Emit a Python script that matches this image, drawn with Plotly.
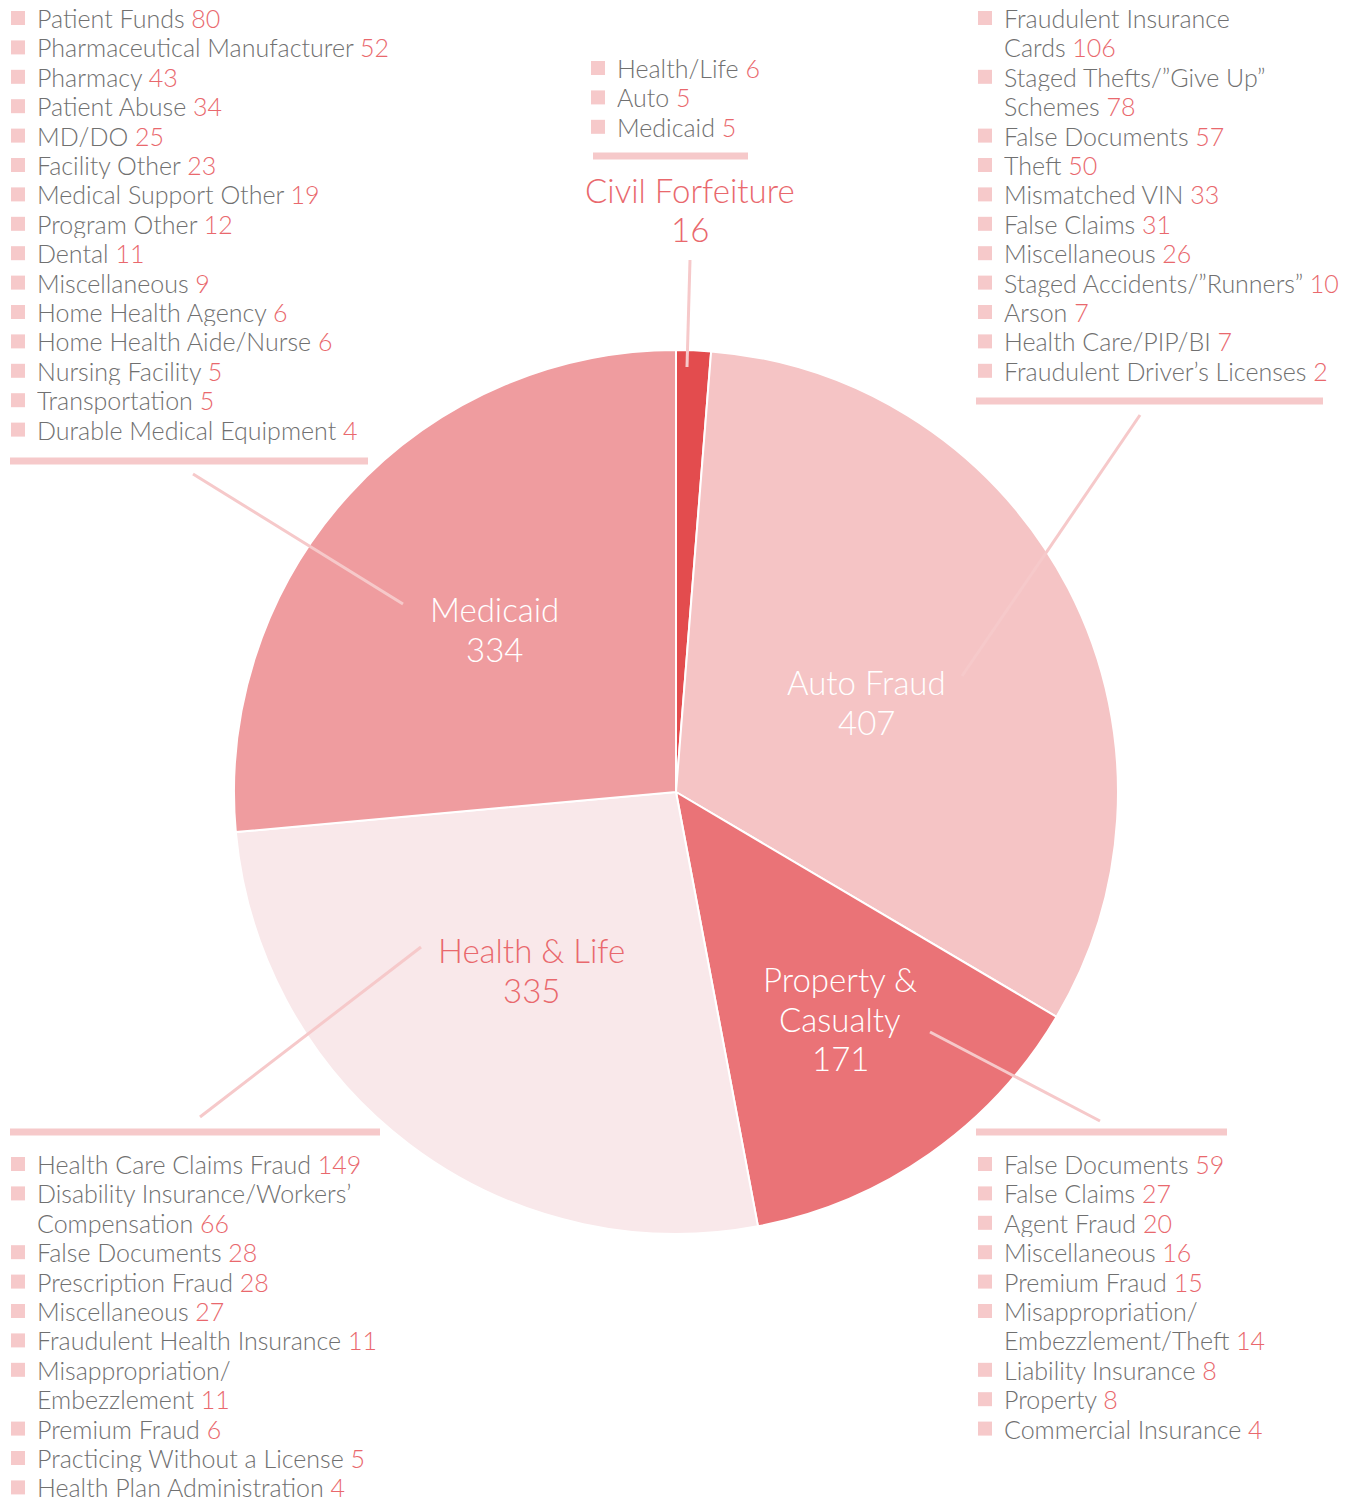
import plotly.graph_objects as go

W, H = 1366, 1498

# ---- data ----
categories = ["Civil Forfeiture", "Auto Fraud", "Property & Casualty", "Health & Life", "Medicaid"]
category_values = [16, 407, 171, 335, 334]

medicaid_labels = ["Patient Funds", "Pharmaceutical Manufacturer", "Pharmacy", "Patient Abuse", "MD/DO",
                   "Facility Other", "Medical Support Other", "Program Other", "Dental", "Miscellaneous",
                   "Home Health Agency", "Home Health Aide/Nurse", "Nursing Facility", "Transportation",
                   "Durable Medical Equipment"]
medicaid_values = [80, 52, 43, 34, 25, 23, 19, 12, 11, 9, 6, 6, 5, 5, 4]

civil_labels = ["Health/Life", "Auto", "Medicaid"]
civil_values = [6, 5, 5]

auto_labels = ["Fraudulent Insurance\nCards", "Staged Thefts/\u201dGive Up\u201d\nSchemes", "False Documents", "Theft",
               "Mismatched VIN", "False Claims", "Miscellaneous", "Staged Accidents/\u201dRunners\u201d", "Arson",
               "Health Care/PIP/BI", "Fraudulent Driver\u2019s Licenses"]
auto_values = [106, 78, 57, 50, 33, 31, 26, 10, 7, 7, 2]

health_labels = ["Health Care Claims Fraud", "Disability Insurance/Workers\u2019\nCompensation", "False Documents",
                 "Prescription Fraud", "Miscellaneous", "Fraudulent Health Insurance", "Misappropriation/\nEmbezzlement",
                 "Premium Fraud", "Practicing Without a License", "Health Plan Administration"]
health_values = [149, 66, 28, 28, 27, 11, 11, 6, 5, 4]

property_labels = ["False Documents", "False Claims", "Agent Fraud", "Miscellaneous", "Premium Fraud",
                   "Misappropriation/\nEmbezzlement/Theft", "Liability Insurance", "Property", "Commercial Insurance"]
property_values = [59, 27, 20, 16, 15, 14, 8, 8, 4]

# ---- style ----
slice_colors = ["#e34c4e", "#f5c4c5", "#ea7377", "#f9e8ea", "#ef9c9f"]
GRAY = "#707070"
CORAL = "#e9686d"
PINK = "#f6c9ca"
FONT = "Lato"
LIST_SIZE = 25
CAT_SIZE = 33


def px(x):
    return x / W


def py(y):
    return 1 - y / H


cx, cy, R = 676, 792, 442

fig = go.Figure(go.Pie(
    labels=categories, values=category_values, sort=False, direction="clockwise", rotation=0,
    marker=dict(colors=slice_colors, line=dict(color="white", width=2)),
    textinfo="none", hoverinfo="label+value", showlegend=False,
    domain=dict(x=[px(cx - R), px(cx + R)], y=[py(cy + R), py(cy - R)]),
))

annotations = []
shapes = []

ROW = 29.4


def add_text(x, y, txt, size, color, anchor="left", box_h=None):
    ann = dict(
        x=px(x), y=py(y), xref="paper", yref="paper", xanchor=anchor, yanchor="middle",
        text=txt, showarrow=False, align=anchor, valign="middle", borderpad=0,
        font=dict(family=FONT, size=size, color=color, weight=300),
    )
    if box_h:
        ann["height"] = box_h
    annotations.append(ann)


def add_list(labels, values, x_text, y_first):
    row = 0
    for lab, val in zip(labels, values):
        lines = lab.split("\n")
        y0 = y_first + row * ROW
        shapes.append(dict(type="rect", xref="paper", yref="paper",
                           x0=px(x_text - 27), x1=px(x_text - 13), y0=py(y0 - 7), y1=py(y0 + 7),
                           fillcolor=PINK, line=dict(width=0)))
        for i, ln in enumerate(lines):
            txt = ln
            if i == len(lines) - 1:
                txt = ln + f" <span style='color:{CORAL}'>{val}</span>"
            add_text(x_text - 2, y_first + row * ROW, txt, LIST_SIZE, GRAY, box_h=28)
            row += 1


add_list(medicaid_labels, medicaid_values, 38, 18)
add_list(civil_labels, civil_values, 618, 68)
add_list(auto_labels, auto_values, 1005, 18)
add_list(health_labels, health_values, 38, 1164)
add_list(property_labels, property_values, 1005, 1164)

# separator bars
for x0, x1, y in [(10, 368, 461), (593, 748, 156), (976, 1323, 401), (10, 380, 1132), (976, 1227, 1132)]:
    shapes.append(dict(type="line", xref="paper", yref="paper", x0=px(x0), x1=px(x1), y0=py(y), y1=py(y),
                       line=dict(color=PINK, width=7)))

# leader lines
for x0, y0, x1, y1 in [(690, 260, 687, 367), (1140, 415, 962, 676), (193, 474, 403, 604),
                       (200, 1117, 421, 947), (930, 1032, 1100, 1121)]:
    shapes.append(dict(type="line", xref="paper", yref="paper", x0=px(x0), x1=px(x1), y0=py(y0), y1=py(y1),
                       line=dict(color=PINK, width=3), layer="above"))

# category labels
cat_label_pos = [(690, 190, CORAL, ["Civil Forfeiture"]), (866, 682, "white", ["Auto Fraud"]),
                 (840, 979, "white", ["Property &", "Casualty"]), (531, 950, CORAL, ["Health & Life"]),
                 (494, 609, "white", ["Medicaid"])]
CAT_ROW = 39.5
for (x, y, col, name_lines), v in zip(cat_label_pos, category_values):
    for i, ln in enumerate(name_lines + [str(v)]):
        add_text(x, y + i * CAT_ROW, ln, CAT_SIZE, col, anchor="center")

fig.update_layout(
    width=W, height=H, margin=dict(l=0, r=0, t=0, b=0),
    paper_bgcolor="white", plot_bgcolor="white",
    annotations=annotations, shapes=shapes,
)

fig.write_html("out.html", config={"displayModeBar": False},
               post_script="document.body.style.margin='0px';")
